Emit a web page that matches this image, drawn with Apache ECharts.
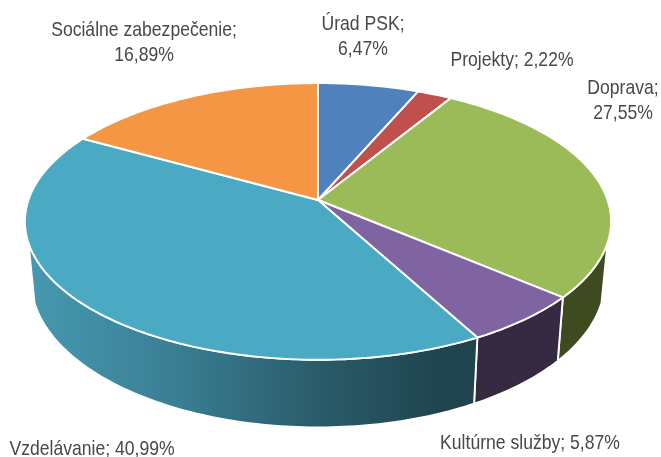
<!DOCTYPE html>
<html><head><meta charset="utf-8">
<style>html,body{margin:0;padding:0;background:#fff}#c{width:661px;height:457px}</style>
<script src="https://cdn.jsdelivr.net/npm/echarts@6/dist/echarts.min.js"></script>
</head><body><div id="c"></div>
<script>
const categories = ['Úrad PSK','Projekty','Doprava','Kultúrne služby','Vzdelávanie','Sociálne zabezpečenie'];
const shares = [6.47,2.22,27.55,5.87,40.99,16.89];
const topColors = ['#4f81bd','#c0504d','#9bbb59','#8064a2','#4aaac4','#f59645'];
const sideColors = ['#2f4d71','#73302e','#3e4a20','#352a42',null,'#935a2a'];
const labelBreak = [true,false,true,false,false,true];
const labelPos = [[363,37],[512,60],[623,101],[530,443],[92,449],[144,43]];

const total = shares.reduce((a,b)=>a+b,0);
const cum = [0]; shares.forEach((s,i)=>cum.push(cum[i]+s));
const ang = f => f/total*360;
const TOP = {x:318,y:200,a:289.5,b:135,p:0.155};
const BOT = {x:318,y:257,a:283.5,b:144,p:0.155};
const VIS = [107.6,252.4];
function pt(g,deg){
  const r=deg*Math.PI/180,u=Math.sin(r),v=Math.cos(r),d=1+g.p*v;
  return [g.x+g.a*u/d,g.y-g.b*v/d];
}
function arc(g,a0,a1){
  const n=Math.max(2,Math.ceil(Math.abs(a1-a0)));const o=[];
  for(let i=0;i<=n;i++)o.push(pt(g,a0+(a1-a0)*i/n));
  return o;
}
const tealGrad = new echarts.graphic.LinearGradient(30,0,440,0,[
  {offset:0,color:'#4699b0'},{offset:0.35,color:'#3a7f94'},{offset:0.7,color:'#2a5c6b'},{offset:1,color:'#1f444e'}
],true);

const chart = echarts.init(document.getElementById('c'),null,{renderer:'canvas'});
chart.setOption({
  animation:false,
  series:[
    {type:'custom',coordinateSystem:'none',z:1,silent:true,
     data:shares.map((v,i)=>({value:[v,i],name:categories[i]})),
     renderItem(params,api){
       const i=api.value(1);
       const a0=Math.max(ang(cum[i]),VIS[0]),a1=Math.min(ang(cum[i+1]),VIS[1]);
       if(a1<=a0) return {type:'group',children:[]};
       return {type:'polygon',
         shape:{points:arc(TOP,a0,a1).concat(arc(BOT,a1,a0))},
         style:{fill:sideColors[i]||tealGrad,stroke:'#fff',lineWidth:1.9,lineJoin:'round'}};
     }},
    {type:'custom',coordinateSystem:'none',z:2,silent:true,
     data:shares.map((v,i)=>({value:[v,i],name:categories[i]})),
     renderItem(params,api){
       const i=api.value(1);
       const pts=[[TOP.x,TOP.y]].concat(arc(TOP,ang(cum[i]),ang(cum[i+1])));
       return {type:'polygon',shape:{points:pts},
         style:{fill:topColors[i],stroke:'#fff',lineWidth:1.9,lineJoin:'round'}};
     }},
    {type:'custom',coordinateSystem:'none',z:3,silent:true,
     data:shares.map((v,i)=>({value:[v,i],name:categories[i]})),
     renderItem(params,api){
       const i=api.value(1);
       const pct=api.value(0).toFixed(2).replace('.',',')+'%';
       const txt=categories[i]+';'+(labelBreak[i]?'\n':' ')+pct;
       return {type:'text',x:labelPos[i][0],y:labelPos[i][1],scaleX:0.837,
         style:{text:txt,align:'center',verticalAlign:'middle',fill:'#484848',
           font:'21px "Liberation Sans"',lineHeight:25}};
     }}
  ]
});
</script></body></html>
